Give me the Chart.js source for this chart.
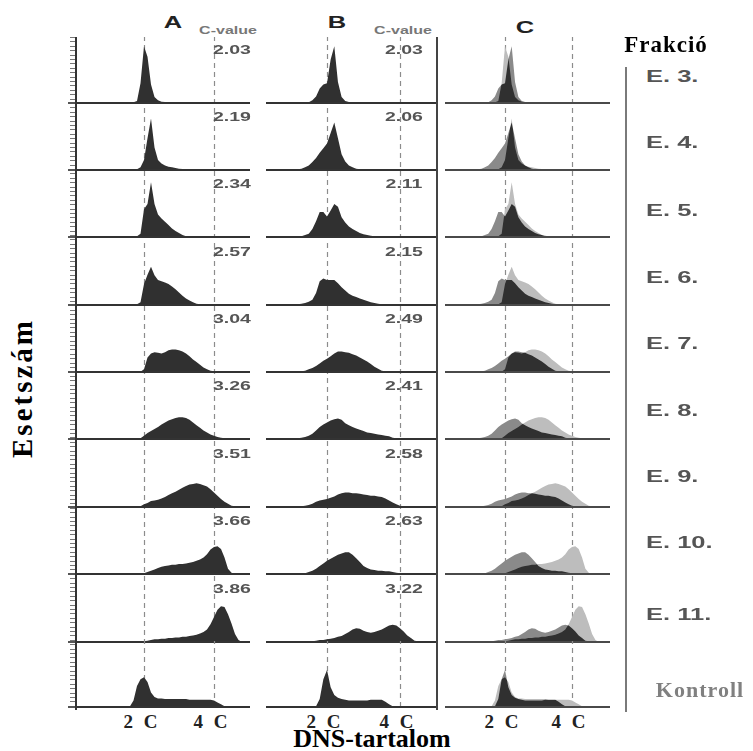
<!DOCTYPE html>
<html lang="hu">
<head>
<meta charset="utf-8">
<title>DNS-tartalom</title>
<script src="https://cdn.jsdelivr.net/npm/chart.js@4.4.0/dist/chart.umd.min.js"></script>
<style>
  html, body { margin: 0; padding: 0; background: #fff; }
  #stage { position: relative; width: 753px; height: 751px; overflow: hidden; }
  #stage canvas { position: absolute; }
  .lbl { position: absolute; white-space: nowrap; line-height: 1; }
  .sans { font-family: "Liberation Sans", Arial, sans-serif; font-weight: bold; }
  .serif { font-family: "Liberation Serif", "Times New Roman", serif; font-weight: bold; }
  .rule { position: absolute; }
</style>
</head>
<body>
<div id="stage"></div>
<script>
// --- Data: DNA content bins (C units) and cell counts (% of panel height) ---

const dnaBins = [1.0, 1.1, 1.2, 1.3, 1.4, 1.5, 1.6, 1.7, 1.8, 1.9,
                 2.0, 2.1, 2.2, 2.3, 2.4, 2.5, 2.6, 2.7, 2.8, 2.9,
                 3.0, 3.1, 3.2, 3.3, 3.4, 3.5, 3.6, 3.7, 3.8, 3.9,
                 4.0, 4.1, 4.2, 4.3, 4.4, 4.5, 4.6, 4.7, 4.8];

const fractionLabels = ['E. 3.', 'E. 4.', 'E. 5.', 'E. 6.', 'E. 7.', 'E. 8.', 'E. 9.', 'E. 10.', 'E. 11.', 'Kontroll'];
const cValueA = ['2.03', '2.19', '2.34', '2.57', '3.04', '3.26', '3.51', '3.66', '3.86', ''];
const cValueB = ['2.03', '2.06', '2.11', '2.15', '2.49', '2.41', '2.58', '2.63', '3.22', ''];
const axisTickLabels = ['2 C', '4 C'];

// column A
const countsA_E3  = [0,0,0,0,0,0,0.5,1,3,30, 86,70,28,9,4,2,1.5,1,1,1, 1,1,1,1,1,1,1,1,1,1, 1,1,1,0.5,0,0,0,0,0];
const countsA_E4  = [0,0,0,0,0,0,0,0,1,4, 15,48,78,34,15,10,7,5,4,3, 2,1.5,1,1,1,1,1,1,1,1, 1,0.5,0,0,0,0,0,0,0];
const countsA_E5  = [0,0,0,0,0,0,0,0,1,5, 42,50,83,50,34,28,23,18,13,9, 6,3,1,0.5,0,0,0,0,0,0, 0,0,0,0,0,0,0,0,0];
const countsA_E6  = [0,0,0,0,0,0,0,0,1,4, 32,46,58,45,38,36,34,32,28,24, 19,14,10,7,4,2,1,0,0,0, 0,0,0,0,0,0,0,0,0];
const countsA_E7  = [0,0,0,0,0,0,0,0,0,0.5, 4,22,28,30,29,28,30,33,34,34, 33,31,28,24,19,15,11,7,4,2, 1,0,0,0,0,0,0,0,0];
const countsA_E8  = [0,0,0,0,0,0,0,0,0,1, 5,9,12,15,18,22,25,28,30,32, 33,33,32,29,25,21,17,13,10,7, 5,3,2,1,0,0,0,0,0];
const countsA_E9  = [0,0,0,0,0,0,0,0,0.5,1, 4,6,9,10,11,13,15,18,21,23, 26,29,32,34,35,36,35,33,31,27, 22,17,12,8,5,2,1,0,0];
const countsA_E10 = [0,0,0,0,0,0,0,0,0,0, 1,3,5,7,9,11,12,13,14,14, 15,15,16,17,18,20,22,25,30,37, 41,42,38,25,8,2,0,0,0];
const countsA_E11 = [0,0,0,0,0,0,0,0,0,0, 1,2,3,4,4,5,5,6,6,7, 7,8,8,9,10,11,13,15,19,27, 38,49,54,53,42,28,12,3,0];
const countsA_K   = [0,0,0,0,0,0,1,10,32,42, 45,38,22,15,13,13,12,12,12,12, 12,12,12,11,11,11,11,11,11,11, 10,7,4,1,0,0,0,0,0];

// column B
const countsB_E3  = [0,0,0,0,0,1,4,10,22,28, 30,66,86,32,9,3,1.5,1,1,1, 1,1,1,1,1,1,1,1,1,0.5, 0,0,0,0,0,0,0,0,0];
const countsB_E4  = [0,0,1,2,4,7,12,18,26,33, 40,56,72,48,24,13,7,4,2,1, 1,0.5,0.5,0,0,0,0,0,0,0, 0,0,0,0,0,0,0,0,0];
const countsB_E5  = [0,0,0,1,3,5,12,24,38,38, 31,40,50,46,30,22,16,12,9,6, 4,3,2,1,0.5,0,0,0,0,0, 0,0,0,0,0,0,0,0,0];
const countsB_E6  = [0,1,1,2,3,5,8,18,36,40, 38,38,38,33,27,22,17,14,12,10, 8,6,4,3,2,1,0,0,0,0, 0,0,0,0,0,0,0,0,0];
const countsB_E7  = [0,0,0,1,2,4,6,9,13,17, 20,24,28,31,31,30,29,27,25,22, 19,16,12,8,5,2,1,0,0,0, 0,0,0,0,0,0,0,0,0];
const countsB_E8  = [0,0,1,2,3,5,8,13,18,22, 25,28,30,31,29,24,21,18,16,14, 12,10,9,8,7,6,5,4,2,1, 0,0,0,0,0,0,0,0,0];
const countsB_E9  = [0,0,0,1,2,3,5,8,10,11, 12,14,16,19,21,22,22,21,21,20, 19,18,17,17,16,15,13,10,7,4, 2,1,0,0,0,0,0,0,0];
const countsB_E10 = [0,0,0,0,1,3,5,8,12,16, 20,23,26,29,31,33,33,29,24,18, 12,9,7,6,5,5,4,4,3,2, 1,0,0,0,0,0,0,0,0];
const countsB_E11 = [0,0,0,0,0,0,1,2,3,3, 4,5,6,8,9,12,15,19,21,20, 17,15,14,15,17,19,22,25,26,25, 21,16,10,6,2,1,0,0,0];
const countsB_K   = [0,0,0,0,0,0,0,1,12,42, 56,30,18,14,12,11,10,10,10,10, 10,10,11,11,11,11,8,4,1,0, 0,0,0,0,0,0,0,0,0];

const rowsA = [countsA_E3, countsA_E4, countsA_E5, countsA_E6, countsA_E7, countsA_E8, countsA_E9, countsA_E10, countsA_E11, countsA_K];
const rowsB = [countsB_E3, countsB_E4, countsB_E5, countsB_E6, countsB_E7, countsB_E8, countsB_E9, countsB_E10, countsB_E11, countsB_K];

// --- Layout ---

const stage = document.getElementById('stage');
const rowBaselines = [103, 170, 237, 305, 372, 439, 507, 574, 642, 707];
const ROW_H = 66;      // panel height above baseline
const ROW_EXTRA = 3;   // canvas space below baseline
const columns = {
    A: { left: 76,  right: 250, x2C: 144, x4C: 214 },
    B: { left: 266, right: 436, x2C: 327, x4C: 400 },
    C: { left: 445, right: 610, x2C: 505, x4C: 572 }
};

const DARK = '#303030';
const LIGHT = '#bdbdbd';
const MEDIUM = '#8a8a8a';

function toPoints(values) {
    return dnaBins.map((x, i) => ({ x: x, y: values[i] }));
}

// Guides, baseline and overlay compositing for each panel
const panelDecor = {
    id: 'panelDecor',
    beforeDatasetsDraw(chart) {
        const first = chart.data.datasets[0];
        chart.ctx.globalCompositeOperation = (first && first.blend) || 'source-over';
    },
    afterDatasetDraw(chart, args) {
        const next = chart.data.datasets[args.index + 1];
        chart.ctx.globalCompositeOperation = (next && next.blend) || 'source-over';
    },
    afterDatasetsDraw(chart, args, opts) {
        const { ctx, chartArea, scales: { x, y } } = chart;
        ctx.save();
        ctx.globalCompositeOperation = 'destination-over';
        ctx.strokeStyle = '#8c8c8c';
        ctx.lineWidth = 1.2;
        ctx.setLineDash([5, 4]);
        ctx.lineDashOffset = opts.top || 0;
        [2, 4].forEach(c => {
            const px = Math.round(x.getPixelForValue(c)) + 0.5;
            ctx.beginPath();
            ctx.moveTo(px, chartArea.top);
            ctx.lineTo(px, y.getPixelForValue(0));
            ctx.stroke();
        });
        ctx.restore();

        ctx.save();
        ctx.globalCompositeOperation = 'source-over';
        ctx.strokeStyle = opts.baseColor || '#3a3a3a';
        ctx.lineWidth = 2;
        const by = y.getPixelForValue(0);
        ctx.beginPath();
        ctx.moveTo(chartArea.left, by);
        ctx.lineTo(chartArea.right, by);
        ctx.stroke();
        ctx.restore();
    }
};

function makePanel(colKey, row, datasets) {
    const col = columns[colKey];
    const pxPerC = (col.x4C - col.x2C) / 2;
    const top = rowBaselines[row] - ROW_H;
    const canvas = document.createElement('canvas');
    canvas.width = col.right - col.left;
    canvas.height = ROW_H + ROW_EXTRA;
    canvas.style.left = col.left + 'px';
    canvas.style.top = top + 'px';
    stage.appendChild(canvas);

    return new Chart(canvas.getContext('2d'), {
        type: 'line',
        data: { datasets: datasets },
        options: {
            responsive: false,
            maintainAspectRatio: false,
            animation: false,
            events: [],
            layout: { padding: 0 },
            plugins: {
                legend: { display: false },
                tooltip: { enabled: false },
                panelDecor: { top: top, baseColor: colKey === 'C' ? '#4a4a4a' : '#333' }
            },
            scales: {
                x: {
                    type: 'linear', display: false, bounds: 'data',
                    min: 2 - (col.x2C - col.left) / pxPerC,
                    max: 2 + (col.right - col.x2C) / pxPerC
                },
                y: {
                    display: false, bounds: 'data',
                    min: -100 * ROW_EXTRA / ROW_H, max: 100
                }
            }
        },
        plugins: [panelDecor]
    });
}

function histogram(values, color, order, blend) {
    return {
        data: toPoints(values),
        fill: 'origin',
        backgroundColor: color,
        borderColor: 'rgba(0,0,0,0)',
        borderWidth: 0,
        pointRadius: 0,
        tension: 0,
        order: order,
        blend: blend
    };
}

// --- Panels: A, B and the A/B overlay in C ---

rowBaselines.forEach((b, r) => {
    makePanel('A', r, [histogram(rowsA[r], DARK, 1)]);
    makePanel('B', r, [histogram(rowsB[r], DARK, 1)]);
    makePanel('C', r, [
        histogram(rowsA[r], LIGHT, 3, 'source-over'),
        histogram(rowsB[r], DARK, 2, 'source-atop'),
        histogram(rowsB[r], MEDIUM, 1, 'destination-over')
    ]);
});

// --- Frame lines ---

function addRule(x, y, w, h, bg) {
    const el = document.createElement('div');
    el.className = 'rule';
    Object.assign(el.style, { left: x + 'px', top: y + 'px', width: w + 'px', height: h + 'px', background: bg });
    stage.appendChild(el);
}

addRule(75, 37, 2, 673, '#333');
addRule(70, 37, 5, 673, 'repeating-linear-gradient(to bottom, #777 0px, #777 1px, transparent 1px, transparent 4.4px)');
rowBaselines.forEach(b => addRule(68, b - 1, 7, 2, '#555'));
addRule(436, 37, 2, 673, '#444');
addRule(625, 67, 2, 645, '#7a7a7a');

// --- Text ---

function addLabel(text, x, y, cls, style) {
    const el = document.createElement('div');
    el.className = 'lbl ' + cls;
    el.textContent = text;
    el.style.left = x + 'px';
    el.style.top = y + 'px';
    el.style.transform = 'translate(-50%, -50%)';
    Object.assign(el.style, style || {});
    stage.appendChild(el);
    return el;
}

const wide = s => ({ transform: 'translate(-50%, -50%) scaleX(' + s + ')' });

addLabel('A', 173, 22, 'sans', Object.assign({ fontSize: '17px', color: '#222' }, wide(1.5)));
addLabel('B', 337, 22, 'sans', Object.assign({ fontSize: '17px', color: '#222' }, wide(1.5)));
addLabel('C', 525, 27, 'sans', Object.assign({ fontSize: '17px', color: '#222' }, wide(1.5)));
addLabel('C-value', 228, 31, 'sans', Object.assign({ fontSize: '10px', color: '#777' }, wide(1.6)));
addLabel('C-value', 403, 31, 'sans', Object.assign({ fontSize: '10px', color: '#777' }, wide(1.6)));

rowBaselines.forEach((b, r) => {
    const y = b - ROW_H + 12;
    if (cValueA[r]) addLabel(cValueA[r], 232, y, 'sans', Object.assign({ fontSize: '13px', color: '#555' }, wide(1.5)));
    if (cValueB[r]) addLabel(cValueB[r], 404, y, 'sans', Object.assign({ fontSize: '13px', color: '#555' }, wide(1.5)));
});

addLabel('Frakció', 666, 44, 'serif', { fontSize: '23px', color: '#000', letterSpacing: '1px' });
const fracY = [76, 142, 210, 277, 343, 410, 476, 542, 614];
fracY.forEach((y, i) => {
    addLabel(fractionLabels[i], 646, y, 'sans', {
        fontSize: '17px', color: '#555',
        transform: 'translateY(-50%) scaleX(1.5)', transformOrigin: 'left center'
    });
});
addLabel(fractionLabels[9], 700, 690, 'serif', { fontSize: '22px', color: '#808080', letterSpacing: '1px' });

addLabel('Esetszám', 22, 388, 'serif', { fontSize: '29px', color: '#000', letterSpacing: '3px', transform: 'translate(-50%, -50%) rotate(-90deg)' });
addLabel('DNS-tartalom', 372, 739, 'serif', { fontSize: '26px', color: '#000' });

Object.keys(columns).forEach(k => {
    const col = columns[k];
    addLabel(axisTickLabels[0], col.x2C - 2, 721, 'serif', { fontSize: '19px', color: '#222', letterSpacing: '3px' });
    addLabel(axisTickLabels[1], col.x4C - 2, 721, 'serif', { fontSize: '19px', color: '#222', letterSpacing: '3px' });
});
</script>
</body>
</html>
